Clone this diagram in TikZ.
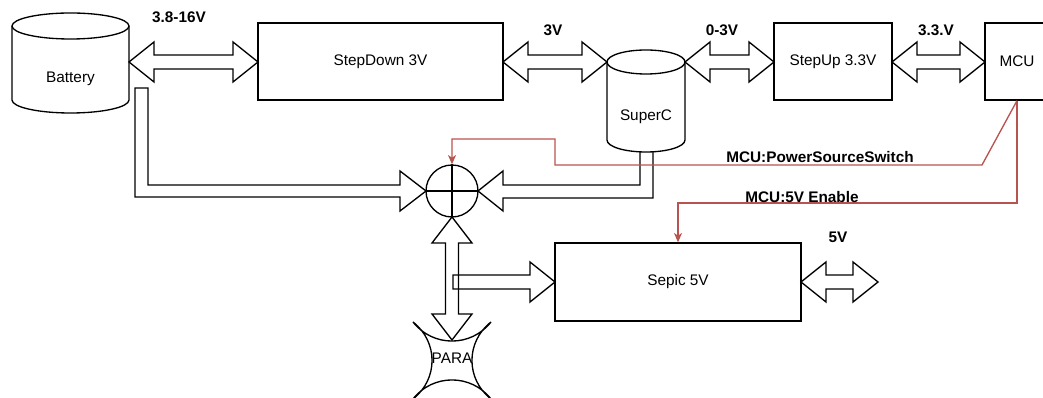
\documentclass[tikz,border=0pt]{standalone}
\usepackage{fontspec}
\setmainfont{Liberation Sans}
\usetikzlibrary{arrows.meta}
\definecolor{sigred}{HTML}{B85450}
\tikzset{
  every node/.style={font=\fontsize{11.5pt}{13pt}\selectfont, inner sep=0pt},
  blk/.style={draw, line width=1pt, fill=white, minimum height=57.75pt},
  lbl/.style={font=\fontsize{11.5pt}{13pt}\selectfont\bfseries},
  barrow/.style={draw, line width=1pt, line join=miter},
  sig/.style={draw=sigred, line width=1pt, -{Stealth[length=7pt,width=6pt,inset=2pt]}},
}
% horizontal double block arrow: x1, x2, y
\newcommand{\hdbl}[3]{%
  \draw[barrow] (#1,#3) -- (#1+25,#3-20) -- (#1+25,#3-7) -- (#2-25,#3-7) -- (#2-25,#3-20)
    -- (#2,#3) -- (#2-25,#3+20) -- (#2-25,#3+7) -- (#1+25,#3+7) -- (#1+25,#3+20) -- cycle;}
\begin{document}
\begin{tikzpicture}[x=0.75pt,y=-0.75pt]
\useasboundingbox (0,0) rectangle (1043,398);

% Battery cylinder
\draw[line width=1pt, fill=white] (12,26) -- (12,100) arc[start angle=180,end angle=0,x radius=58.5,y radius=13]
  -- (129,26) arc[start angle=0,end angle=-180,x radius=58.5,y radius=13] -- cycle;
\draw[line width=1pt] (12,26) arc[start angle=180,end angle=0,x radius=58.5,y radius=13];
\node (bat) at (70.5,79) {Battery};

% SuperC cylinder
\draw[line width=1pt, fill=white] (607,62) -- (607,140) arc[start angle=180,end angle=0,x radius=39,y radius=12]
  -- (685,62) arc[start angle=0,end angle=-180,x radius=39,y radius=12] -- cycle;
\draw[line width=1pt] (607,62) arc[start angle=180,end angle=0,x radius=39,y radius=12];
\node (supc) at (646,117) {SuperC};

% boxes
\node[blk, minimum width=183.75pt] (sd) at (380.5,61.5) {StepDown 3V};
\node[blk, minimum width=88.5pt] (su) at (833,61.5) {StepUp 3.3V};
\node[blk, minimum width=48pt] (mcu) at (1017,61.5) {MCU};
\node[blk, minimum width=184.5pt, minimum height=58.5pt] (sep) at (678,282) {Sepic 5V};

% horizontal double arrows
\hdbl{129}{258}{62}
\hdbl{503}{607}{62}
\hdbl{685}{774}{62}
\hdbl{892}{985}{62}
\hdbl{801}{878}{282}

% labels
\node[lbl] (l1) at (179,17) {3.8-16V};
\node[lbl] (l2) at (553,30) {3V};
\node[lbl] (l3) at (722,30) {0-3V};
\node[lbl] (l4) at (936,30) {3.3.V};
\node[lbl] (l5) at (838,237) {5V};

% Battery bent arrow to junction
\draw[barrow] (135,88) -- (148,88) -- (148,185) -- (400,185) -- (400,171) -- (426,191)
  -- (400,211) -- (400,197) -- (135,197) -- cycle;
% SuperC bent arrow to junction
\draw[barrow] (653,152) -- (653,198) -- (503,198) -- (503,211) -- (478,191) -- (503,171)
  -- (503,185) -- (640,185) -- (640,152);

% Sepic feed arrow
\draw[barrow, fill=none] (453,275) -- (530,275) -- (530,262) -- (555,282) -- (530,302) -- (530,289) -- (453,289) -- cycle;

% vertical double arrow junction - PARA
\draw[barrow, fill=none] (452,217) -- (472,243) -- (458.5,243) -- (458.5,314) -- (472,314) -- (452,340)
  -- (432,314) -- (445.5,314) -- (445.5,243) -- (432,243) -- cycle;

% PARA shape
\draw[line width=1pt] (413,322) .. controls (432.8,347.4) and (471.2,347.4) .. (491,322)
  .. controls (465.6,341.8) and (465.6,379.2) .. (491,399)
  .. controls (471.2,373.6) and (432.8,373.6) .. (413,399)
  .. controls (438.4,379.2) and (438.4,341.8) .. (413,322) -- cycle;
\node (para) at (452,358) {PARA};

% summing junction
\node[draw, circle, line width=1pt, fill=white, minimum size=39pt] (sum) at (452,191) {};
\draw[line width=1pt] (sum.north) -- (sum.south) (sum.west) -- (sum.east);

% red signal lines
\draw[sig] (mcu.south) -- (982,165) -- (555,165) -- (555,139) -- (452,139) -- (sum.north);
\draw[sig] (mcu.south) -- (1017,203) -- (678,203) -- (sep.north);
\node[lbl] (s1) at (820,157) {MCU:PowerSourceSwitch};
\node[lbl] (s2) at (802,197) {MCU:5V Enable};
\end{tikzpicture}
\end{document}
